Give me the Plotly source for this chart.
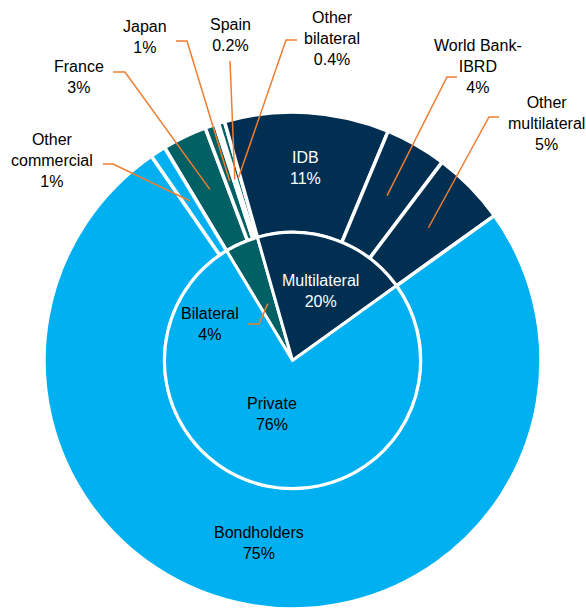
import math
import plotly.graph_objects as go

# inner ring: creditor type
inner_labels = ["Bilateral", "Multilateral", "Private"]
inner_values = [4.2, 19.5, 76.3]
inner_pct = ["4%", "20%", "76%"]

# outer ring: creditors, same clockwise order as the inner ring
outer_labels = ["France", "Japan", "Spain", "Other<br>bilateral", "IDB",
                "World Bank-<br>IBRD", "Other<br>multilateral", "Bondholders",
                "Other<br>commercial"]
outer_values = [2.9, 0.7, 0.2, 0.4, 10.7, 4.0, 4.8, 75.3, 1.0]
outer_pct = ["3%", "1%", "0.2%", "0.4%", "11%", "4%", "5%", "75%", "1%"]

TEAL, NAVY, BLUE = "#006064", "#002F52", "#00B0F0"
ORANGE = "#ED7D31"
inner_colors = [TEAL, NAVY, BLUE]
outer_colors = [TEAL] * 4 + [NAVY] * 3 + [BLUE] * 2

W, H = 586, 609
CX, CY = 292.5, 360.5        # pie centre, pixels from top-left
R_OUT, R_IN = 248.5, 128
ROT = -31                    # first slice starts 31 deg left of 12 o'clock


def px(x, y):
    return x / W, 1 - y / H


def dom(r):
    cy = H - CY
    return dict(x=[(CX - r) / W, (CX + r) / W], y=[(cy - r) / H, (cy + r) / H])


def mid_angle(values, i):
    tot = sum(values)
    return ROT + 360 * (sum(values[:i]) + values[i] / 2) / tot


def polar(r, ang):
    a = math.radians(ang)
    return CX + r * math.sin(a), CY - r * math.cos(a)


fig = go.Figure()
fig.add_trace(go.Pie(labels=outer_labels, values=outer_values, sort=False,
                     direction="clockwise", rotation=ROT, hole=R_IN / R_OUT,
                     marker=dict(colors=outer_colors, line=dict(color="white", width=3.5)),
                     textinfo="none", domain=dom(R_OUT), showlegend=False))
fig.add_trace(go.Pie(labels=inner_labels, values=inner_values, sort=False,
                     direction="clockwise", rotation=ROT,
                     marker=dict(colors=inner_colors, line=dict(color="white", width=3)),
                     textinfo="none", domain=dom(R_IN), showlegend=False))

# label centres (pixels); inside labels use white on navy
outer_pos = {"France": (79, 77), "Japan": (145, 37), "Spain": (230, 35),
             "Other<br>bilateral": (332, 38), "IDB": (305, 168),
             "World Bank-<br>IBRD": (478, 67), "Other<br>multilateral": (546, 124),
             "Bondholders": (259, 543), "Other<br>commercial": (52, 160)}
inner_pos = {"Bilateral": (210, 324), "Multilateral": (320, 291), "Private": (272, 414)}
white_text = ["IDB", "Multilateral"]

# leader lines: label-side points, then slice end computed from data
outer_leaders = {"Other<br>commercial": [(103, 164), (113, 164)],
                 "France": [(113, 72), (125, 72)],
                 "Japan": [(176, 41), (187, 41)],
                 "Spain": [(230, 61)],
                 "Other<br>bilateral": [(297, 40), (286, 40)],
                 "World Bank-<br>IBRD": [(457, 77), (447, 77)],
                 "Other<br>multilateral": [(499, 117), (489, 117)]}
inner_leaders = {"Bilateral": [(248, 324), (259, 324)]}

font = dict(family="Liberation Sans, Arial, sans-serif", size=16)
annotations = []
shapes = []


def add_labels(labels, pcts, pos, leaders, values, r_end):
    for i, lab in enumerate(labels):
        x, y = px(*pos[lab])
        col = "white" if lab in white_text else "black"
        annotations.append(dict(x=x, y=y, xref="paper", yref="paper",
                                text=f"{lab}<br>{pcts[i]}", showarrow=False,
                                xanchor="center", yanchor="middle",
                                font=dict(font, color=col)))
        if lab in leaders:
            pts = leaders[lab] + [polar(r_end, mid_angle(values, i))]
            path = " ".join(("M" if k == 0 else "L") + " %.5f %.5f" % px(*p)
                            for k, p in enumerate(pts))
            shapes.append(dict(type="path", xref="paper", yref="paper", path=path,
                               line=dict(color=ORANGE, width=1.5)))


add_labels(outer_labels, outer_pct, outer_pos, outer_leaders, outer_values, 190)
add_labels(inner_labels, inner_pct, inner_pos, inner_leaders, inner_values, 62)

fig.update_layout(width=W, height=H, margin=dict(l=0, r=0, t=0, b=0),
                  paper_bgcolor="white", plot_bgcolor="white",
                  annotations=annotations, shapes=shapes, font=font)

# drop the default page margin so the figure fills the window exactly
fig.write_html("out.html", config={"displayModeBar": False},
               post_script="document.body.style.margin = '0';")
